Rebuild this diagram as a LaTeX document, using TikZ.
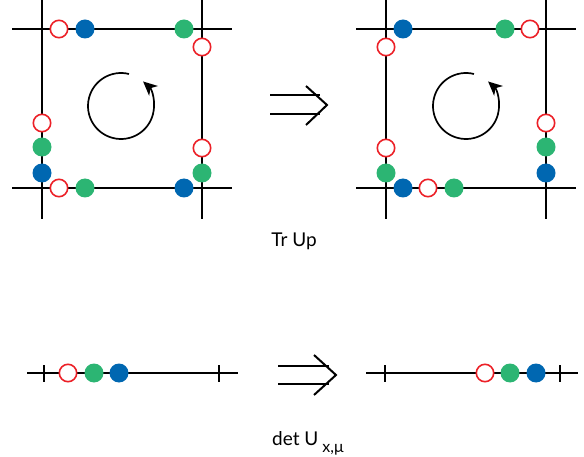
\documentclass[tikz,border=0pt]{standalone}
\usepackage{fontspec}
\setmainfont{Lato}
\usetikzlibrary{arrows.meta}
\definecolor{cblue}{RGB}{0,103,177}
\definecolor{cgreen}{RGB}{44,181,115}
\definecolor{cred}{RGB}{236,32,39}
\begin{document}
\begin{tikzpicture}[x=1pt,y=-1pt,
  gridline/.style={line width=2pt,black},
  bq/.style={circle,fill=cblue,minimum size=19pt,inner sep=0pt},
  gq/.style={circle,fill=cgreen,minimum size=19pt,inner sep=0pt},
  rq/.style={circle,draw=cred,line width=1.6pt,fill=white,minimum size=17.4pt,inner sep=0pt},
  impl/.style={line width=2pt,line join=miter},
  loop/.style={line width=1.7pt,-{Stealth[length=14pt,width=13pt,inset=4pt]}},
  lbl/.style={font=\fontsize{19}{19}\selectfont,inner sep=0pt}]
\useasboundingbox (0,0) rectangle (584,457);

% ---------- left plaquette ----------
\draw[gridline] (42,0) -- (42,219);
\draw[gridline] (202,0) -- (202,219);
\draw[gridline] (12,29) -- (232,29);
\draw[gridline] (12,188) -- (232,188);
\node[rq] (l1) at (59,29) {};
\node[bq] (l2) at (85,29) {};
\node[gq] (l3) at (184,29) {};
\node[rq] (l4) at (202,47) {};
\node[rq] (l5) at (202,148) {};
\node[gq] (l6) at (202,173) {};
\node[rq] (l7) at (59,188) {};
\node[gq] (l8) at (85,188) {};
\node[bq] (l9) at (184,188) {};
\node[rq] (l10) at (42,123) {};
\node[gq] (l11) at (42,147) {};
\node[bq] (l12) at (42,173) {};
\coordinate (lc) at (121,106);
\draw[loop] (lc) ++(-76:33) arc[start angle=-76,end angle=-408,radius=33];

% ---------- right plaquette ----------
\draw[gridline] (386,0) -- (386,219);
\draw[gridline] (546,0) -- (546,219);
\draw[gridline] (356,29) -- (576,29);
\draw[gridline] (356,188) -- (576,188);
\node[bq] (r1) at (403,29) {};
\node[gq] (r2) at (505,29) {};
\node[rq] (r3) at (530,29) {};
\node[rq] (r4) at (386,47) {};
\node[rq] (r5) at (386,148) {};
\node[gq] (r6) at (386,173) {};
\node[bq] (r7) at (403,188) {};
\node[rq] (r8) at (428,188) {};
\node[gq] (r9) at (454,188) {};
\node[rq] (r10) at (546,123) {};
\node[gq] (r11) at (546,147) {};
\node[bq] (r12) at (546,173) {};
\coordinate (rc) at (466,106);
\draw[loop] (rc) ++(-76:33) arc[start angle=-76,end angle=-408,radius=33];

% ---------- top implication ----------
\draw[impl] (270,95) -- (320,95);
\draw[impl] (270,114) -- (320,114);
\draw[impl] (306,86) -- (327,105) -- (306,125);
\node[lbl,anchor=base] (tr) at (294,247) {Tr Up};

% ---------- bottom links ----------
\draw[gridline] (27,373) -- (238,373);
\draw[gridline] (44,365) -- (44,382);
\draw[gridline] (219,365) -- (219,382);
\node[rq] (a1) at (68,373) {};
\node[gq] (a2) at (94,373) {};
\node[bq] (a3) at (119,373) {};

\draw[gridline] (366,373) -- (578,373);
\draw[gridline] (385,365) -- (385,382);
\draw[gridline] (560,365) -- (560,382);
\node[rq] (b1) at (485,373) {};
\node[gq] (b2) at (510,373) {};
\node[bq] (b3) at (536,373) {};

% ---------- bottom implication ----------
\draw[impl] (278,366) -- (329,366);
\draw[impl] (278,384) -- (329,384);
\draw[impl] (314,355) -- (336,375) -- (314,395);
\node[lbl,anchor=base west] (det) at (272,445) {det U\hspace{4pt}\raisebox{-7pt}{\fontsize{16}{16}\selectfont x,μ}};
\end{tikzpicture}
\end{document}
